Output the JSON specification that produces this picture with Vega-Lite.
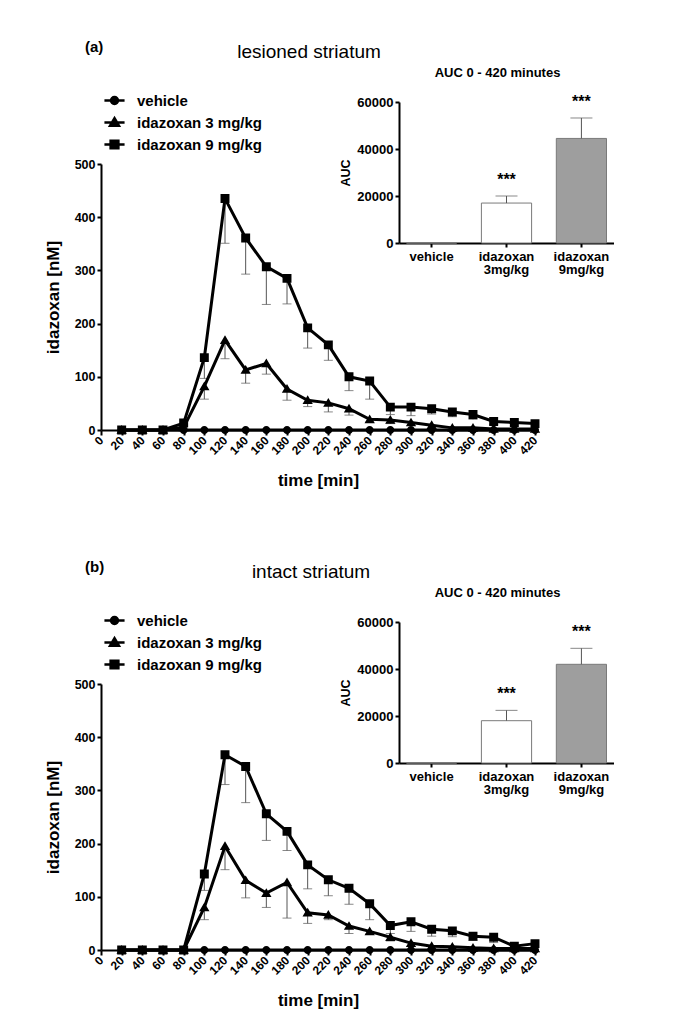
{
  "$schema": "https://vega.github.io/schema/vega-lite/v6.json",
  "background": "white",
  "padding": {"left": 44, "top": 40, "right": 5, "bottom": 5},
  "config": {
    "font": "Liberation Sans",
    "view": {"stroke": null},
    "axis": {"domainColor": "black", "domainWidth": 2, "tickColor": "black", "tickWidth": 2, "labelColor": "black", "labelFontWeight": "bold", "titleColor": "black", "titleFontWeight": "bold", "grid": false},
    "title": {"color": "black", "font": "Liberation Sans"},
    "legend": {"labelFont": "Liberation Sans", "titleFont": "Liberation Sans"}
  },
  "datasets": {
    "lines": [
      {"panel":"a","group":"vehicle","time":20,"mean":0},{"panel":"a","group":"vehicle","time":40,"mean":0},{"panel":"a","group":"vehicle","time":60,"mean":0},{"panel":"a","group":"vehicle","time":80,"mean":0},{"panel":"a","group":"vehicle","time":100,"mean":0},{"panel":"a","group":"vehicle","time":120,"mean":0},{"panel":"a","group":"vehicle","time":140,"mean":0},{"panel":"a","group":"vehicle","time":160,"mean":0},{"panel":"a","group":"vehicle","time":180,"mean":0},{"panel":"a","group":"vehicle","time":200,"mean":0},{"panel":"a","group":"vehicle","time":220,"mean":0},{"panel":"a","group":"vehicle","time":240,"mean":0},{"panel":"a","group":"vehicle","time":260,"mean":0},{"panel":"a","group":"vehicle","time":280,"mean":0},{"panel":"a","group":"vehicle","time":300,"mean":0},{"panel":"a","group":"vehicle","time":320,"mean":0},{"panel":"a","group":"vehicle","time":340,"mean":0},{"panel":"a","group":"vehicle","time":360,"mean":0},{"panel":"a","group":"vehicle","time":380,"mean":0},{"panel":"a","group":"vehicle","time":400,"mean":0},{"panel":"a","group":"vehicle","time":420,"mean":0},
      {"panel":"a","group":"idazoxan 3 mg/kg","time":20,"mean":0},{"panel":"a","group":"idazoxan 3 mg/kg","time":40,"mean":0},{"panel":"a","group":"idazoxan 3 mg/kg","time":60,"mean":0},{"panel":"a","group":"idazoxan 3 mg/kg","time":80,"mean":5},{"panel":"a","group":"idazoxan 3 mg/kg","time":100,"mean":82,"low":58},{"panel":"a","group":"idazoxan 3 mg/kg","time":120,"mean":169,"low":134},{"panel":"a","group":"idazoxan 3 mg/kg","time":140,"mean":113,"low":88},{"panel":"a","group":"idazoxan 3 mg/kg","time":160,"mean":125,"low":105},{"panel":"a","group":"idazoxan 3 mg/kg","time":180,"mean":77,"low":56},{"panel":"a","group":"idazoxan 3 mg/kg","time":200,"mean":56,"low":44},{"panel":"a","group":"idazoxan 3 mg/kg","time":220,"mean":51,"low":34},{"panel":"a","group":"idazoxan 3 mg/kg","time":240,"mean":40,"low":28},{"panel":"a","group":"idazoxan 3 mg/kg","time":260,"mean":20,"low":15},{"panel":"a","group":"idazoxan 3 mg/kg","time":280,"mean":19,"low":12},{"panel":"a","group":"idazoxan 3 mg/kg","time":300,"mean":14},{"panel":"a","group":"idazoxan 3 mg/kg","time":320,"mean":9},{"panel":"a","group":"idazoxan 3 mg/kg","time":340,"mean":4},{"panel":"a","group":"idazoxan 3 mg/kg","time":360,"mean":4},{"panel":"a","group":"idazoxan 3 mg/kg","time":380,"mean":2},{"panel":"a","group":"idazoxan 3 mg/kg","time":400,"mean":2},{"panel":"a","group":"idazoxan 3 mg/kg","time":420,"mean":2},
      {"panel":"a","group":"idazoxan 9 mg/kg","time":20,"mean":0},{"panel":"a","group":"idazoxan 9 mg/kg","time":40,"mean":0},{"panel":"a","group":"idazoxan 9 mg/kg","time":60,"mean":0},{"panel":"a","group":"idazoxan 9 mg/kg","time":80,"mean":13},{"panel":"a","group":"idazoxan 9 mg/kg","time":100,"mean":136,"low":97},{"panel":"a","group":"idazoxan 9 mg/kg","time":120,"mean":435,"low":351},{"panel":"a","group":"idazoxan 9 mg/kg","time":140,"mean":361,"low":293},{"panel":"a","group":"idazoxan 9 mg/kg","time":160,"mean":307,"low":236},{"panel":"a","group":"idazoxan 9 mg/kg","time":180,"mean":285,"low":237},{"panel":"a","group":"idazoxan 9 mg/kg","time":200,"mean":192,"low":154},{"panel":"a","group":"idazoxan 9 mg/kg","time":220,"mean":160,"low":131},{"panel":"a","group":"idazoxan 9 mg/kg","time":240,"mean":100,"low":74},{"panel":"a","group":"idazoxan 9 mg/kg","time":260,"mean":92,"low":58},{"panel":"a","group":"idazoxan 9 mg/kg","time":280,"mean":43,"low":29},{"panel":"a","group":"idazoxan 9 mg/kg","time":300,"mean":43,"low":27},{"panel":"a","group":"idazoxan 9 mg/kg","time":320,"mean":40,"low":30},{"panel":"a","group":"idazoxan 9 mg/kg","time":340,"mean":34,"low":25},{"panel":"a","group":"idazoxan 9 mg/kg","time":360,"mean":29,"low":20},{"panel":"a","group":"idazoxan 9 mg/kg","time":380,"mean":16,"low":10},{"panel":"a","group":"idazoxan 9 mg/kg","time":400,"mean":14},{"panel":"a","group":"idazoxan 9 mg/kg","time":420,"mean":12},
      {"panel":"b","group":"vehicle","time":20,"mean":0},{"panel":"b","group":"vehicle","time":40,"mean":0},{"panel":"b","group":"vehicle","time":60,"mean":0},{"panel":"b","group":"vehicle","time":80,"mean":0},{"panel":"b","group":"vehicle","time":100,"mean":0},{"panel":"b","group":"vehicle","time":120,"mean":0},{"panel":"b","group":"vehicle","time":140,"mean":0},{"panel":"b","group":"vehicle","time":160,"mean":0},{"panel":"b","group":"vehicle","time":180,"mean":0},{"panel":"b","group":"vehicle","time":200,"mean":0},{"panel":"b","group":"vehicle","time":220,"mean":0},{"panel":"b","group":"vehicle","time":240,"mean":0},{"panel":"b","group":"vehicle","time":260,"mean":0},{"panel":"b","group":"vehicle","time":280,"mean":0},{"panel":"b","group":"vehicle","time":300,"mean":0},{"panel":"b","group":"vehicle","time":320,"mean":0},{"panel":"b","group":"vehicle","time":340,"mean":0},{"panel":"b","group":"vehicle","time":360,"mean":0},{"panel":"b","group":"vehicle","time":380,"mean":0},{"panel":"b","group":"vehicle","time":400,"mean":0},{"panel":"b","group":"vehicle","time":420,"mean":0},
      {"panel":"b","group":"idazoxan 3 mg/kg","time":20,"mean":0},{"panel":"b","group":"idazoxan 3 mg/kg","time":40,"mean":0},{"panel":"b","group":"idazoxan 3 mg/kg","time":60,"mean":0},{"panel":"b","group":"idazoxan 3 mg/kg","time":80,"mean":0},{"panel":"b","group":"idazoxan 3 mg/kg","time":100,"mean":80,"low":57},{"panel":"b","group":"idazoxan 3 mg/kg","time":120,"mean":195,"low":151},{"panel":"b","group":"idazoxan 3 mg/kg","time":140,"mean":131,"low":98},{"panel":"b","group":"idazoxan 3 mg/kg","time":160,"mean":107,"low":80},{"panel":"b","group":"idazoxan 3 mg/kg","time":180,"mean":127,"low":60},{"panel":"b","group":"idazoxan 3 mg/kg","time":200,"mean":70,"low":50},{"panel":"b","group":"idazoxan 3 mg/kg","time":220,"mean":66,"low":57},{"panel":"b","group":"idazoxan 3 mg/kg","time":240,"mean":45,"low":31},{"panel":"b","group":"idazoxan 3 mg/kg","time":260,"mean":35,"low":30},{"panel":"b","group":"idazoxan 3 mg/kg","time":280,"mean":24,"low":17},{"panel":"b","group":"idazoxan 3 mg/kg","time":300,"mean":13},{"panel":"b","group":"idazoxan 3 mg/kg","time":320,"mean":7},{"panel":"b","group":"idazoxan 3 mg/kg","time":340,"mean":6},{"panel":"b","group":"idazoxan 3 mg/kg","time":360,"mean":4},{"panel":"b","group":"idazoxan 3 mg/kg","time":380,"mean":3},{"panel":"b","group":"idazoxan 3 mg/kg","time":400,"mean":3},{"panel":"b","group":"idazoxan 3 mg/kg","time":420,"mean":3},
      {"panel":"b","group":"idazoxan 9 mg/kg","time":20,"mean":0},{"panel":"b","group":"idazoxan 9 mg/kg","time":40,"mean":0},{"panel":"b","group":"idazoxan 9 mg/kg","time":60,"mean":0},{"panel":"b","group":"idazoxan 9 mg/kg","time":80,"mean":0},{"panel":"b","group":"idazoxan 9 mg/kg","time":100,"mean":143,"low":112},{"panel":"b","group":"idazoxan 9 mg/kg","time":120,"mean":367,"low":311},{"panel":"b","group":"idazoxan 9 mg/kg","time":140,"mean":345,"low":277},{"panel":"b","group":"idazoxan 9 mg/kg","time":160,"mean":256,"low":206},{"panel":"b","group":"idazoxan 9 mg/kg","time":180,"mean":223,"low":187},{"panel":"b","group":"idazoxan 9 mg/kg","time":200,"mean":160,"low":115},{"panel":"b","group":"idazoxan 9 mg/kg","time":220,"mean":132,"low":102},{"panel":"b","group":"idazoxan 9 mg/kg","time":240,"mean":116,"low":86},{"panel":"b","group":"idazoxan 9 mg/kg","time":260,"mean":87,"low":57},{"panel":"b","group":"idazoxan 9 mg/kg","time":280,"mean":46,"low":31},{"panel":"b","group":"idazoxan 9 mg/kg","time":300,"mean":53,"low":35},{"panel":"b","group":"idazoxan 9 mg/kg","time":320,"mean":39,"low":26},{"panel":"b","group":"idazoxan 9 mg/kg","time":340,"mean":36,"low":25},{"panel":"b","group":"idazoxan 9 mg/kg","time":360,"mean":26,"low":18},{"panel":"b","group":"idazoxan 9 mg/kg","time":380,"mean":24,"low":14},{"panel":"b","group":"idazoxan 9 mg/kg","time":400,"mean":7},{"panel":"b","group":"idazoxan 9 mg/kg","time":420,"mean":12}
    ],
    "auc": [
      {"panel":"a","treatment":"vehicle","auc":0,"sig":""},
      {"panel":"a","treatment":"idazoxan 3mg/kg","auc":17000,"high":20000,"sig":"***"},
      {"panel":"a","treatment":"idazoxan 9mg/kg","auc":44500,"high":53200,"sig":"***"},
      {"panel":"b","treatment":"vehicle","auc":0,"sig":""},
      {"panel":"b","treatment":"idazoxan 3mg/kg","auc":18000,"high":22400,"sig":"***"},
      {"panel":"b","treatment":"idazoxan 9mg/kg","auc":42000,"high":48800,"sig":"***"}
    ]
  },
  "vconcat": [
    {
      "title": {"text": "lesioned striatum", "fontSize": 19, "fontWeight": "normal", "anchor": "middle", "dx": -9, "offset": -22},
      "width": 434,
      "height": 266,
      "layer": [
        {
          "data": {"name": "lines"},
          "transform": [{"filter": "datum.panel == 'a'"}],
          "encoding": {
            "x": {"field": "time", "type": "quantitative", "scale": {"domain": [0, 420], "nice": false, "zero": false},
              "axis": {"values": [0,20,40,60,80,100,120,140,160,180,200,220,240,260,280,300,320,340,360,380,400,420], "labelOverlap": false, "labelAngle": -45, "labelAlign": "right", "labelBaseline": "middle", "labelFontSize": 12, "labelPadding": 3, "tickSize": 5, "title": "time [min]", "titleFontSize": 17, "titlePadding": 16}}
          },
          "layer": [
            {
              "mark": {"type": "rule", "color": "#555", "strokeWidth": 1},
              "encoding": {
                "y": {"field": "low", "type": "quantitative", "scale": {"domain": [0, 500], "nice": false},
                  "axis": {"values": [0,100,200,300,400,500], "labelFontSize": 12.5, "labelPadding": 2, "tickSize": 4, "title": "idazoxan [nM]", "titleFontSize": 17, "titlePadding": 12}},
                "y2": {"field": "mean"}
              }
            },
            {
              "mark": {"type": "tick", "orient": "horizontal", "color": "#555", "size": 9, "thickness": 1},
              "encoding": {
                "y": {"field": "low", "type": "quantitative"}
              }
            },
            {
              "mark": {"type": "line", "color": "black", "strokeWidth": 3},
              "encoding": {
                "y": {"field": "mean", "type": "quantitative"},
                "detail": {"field": "group", "type": "nominal"},
                "order": {"field": "time", "type": "quantitative"}
              }
            },
            {
              "mark": {"type": "point", "filled": true, "color": "black", "opacity": 1, "size": 80},
              "encoding": {
                "y": {"field": "mean", "type": "quantitative"},
                "shape": {"field": "group", "type": "nominal",
                  "scale": {"domain": ["vehicle", "idazoxan 3 mg/kg", "idazoxan 9 mg/kg"],
                    "range": ["M-2.6,0L2.6,0M-0.9,0A0.9,0.9,0,1,1,0.9,0A0.9,0.9,0,1,1,-0.9,0Z", "M-2.6,0L2.6,0M0,-1.1L1.15,0.85L-1.15,0.85Z", "M-2.6,0L2.6,0M-1,-1L1,-1L1,1L-1,1Z"]},
                  "legend": {"title": "(a)", "orient": "none", "legendX": -16, "legendY": -124, "padding": 0, "titleFontSize": 15, "titleFontWeight": "bold", "titleColor": "black", "titlePadding": 38, "labelFontSize": 15, "labelFontWeight": "bold", "labelColor": "black", "symbolSize": 60, "symbolOffset": 22, "labelOffset": 15, "rowPadding": 4,
                    "encoding": {"symbols": {"stroke": {"value": "black"}, "strokeWidth": {"value": 2.5}, "fill": {"value": "black"}, "opacity": {"value": 1}}}}
                }
              }
            }
          ]
        },
        {
          "data": {"name": "auc"},
          "transform": [{"filter": "datum.panel == 'a'"}],
          "layer": [
            {
              "mark": {"type": "bar", "stroke": "#7a7a7a", "strokeWidth": 1},
              "encoding": {
                "x": {"field": "treatment", "type": "nominal", "sort": null,
                  "scale": {"domain": ["vehicle", "idazoxan 3mg/kg", "idazoxan 9mg/kg"], "range": [298, 513], "paddingInner": 0.33, "paddingOuter": 0.1},
                  "axis": {"orient": "bottom", "offset": -187, "labelAngle": 0, "labelFontSize": 13, "labelExpr": "split(datum.label, ' ')", "labelLineHeight": 13, "labelPadding": 3, "tickSize": 4, "title": "AUC 0 - 420 minutes", "titleFontSize": 13, "titleX": 396, "titleY": -171, "titleBaseline": "middle", "titleAnchor": "middle"}},
                "y": {"field": "auc", "type": "quantitative",
                  "scale": {"domain": [0, 60000], "range": [79, -62], "nice": false},
                  "axis": {"orient": "left", "offset": -298, "values": [0, 20000, 40000, 60000], "format": "d", "labelFontSize": 13, "labelPadding": 2, "tickSize": 4, "title": "AUC", "titleFontSize": 12.5, "titlePadding": 4}},
                "fill": {"field": "treatment", "type": "nominal", "scale": {"domain": ["vehicle", "idazoxan 3mg/kg", "idazoxan 9mg/kg"], "range": ["white", "white", "#9e9e9e"]}, "legend": null}
              }
            },
            {
              "mark": {"type": "rule", "color": "#555", "strokeWidth": 1},
              "encoding": {
                "x": {"field": "treatment", "type": "nominal"},
                "y": {"field": "auc", "type": "quantitative"},
                "y2": {"field": "high"}
              }
            },
            {
              "mark": {"type": "tick", "orient": "horizontal", "color": "#555", "size": 22, "thickness": 1},
              "encoding": {
                "x": {"field": "treatment", "type": "nominal"},
                "y": {"field": "high", "type": "quantitative"}
              }
            },
            {
              "mark": {"type": "text", "fontSize": 16, "fontWeight": "bold", "color": "black", "baseline": "alphabetic", "dy": -11},
              "encoding": {
                "x": {"field": "treatment", "type": "nominal"},
                "y": {"field": "high", "type": "quantitative"},
                "text": {"field": "sig"}
              }
            }
          ]
        }
      ],
      "resolve": {"scale": {"x": "independent", "y": "independent", "fill": "independent"}, "axis": {"x": "independent", "y": "independent"}}
    },
    {
      "title": {"text": "intact striatum", "fontSize": 19, "fontWeight": "normal", "anchor": "middle", "dx": -7, "offset": -22},
      "width": 434,
      "height": 266,
      "layer": [
        {
          "data": {"name": "lines"},
          "transform": [{"filter": "datum.panel == 'b'"}],
          "encoding": {
            "x": {"field": "time", "type": "quantitative", "scale": {"domain": [0, 420], "nice": false, "zero": false},
              "axis": {"values": [0,20,40,60,80,100,120,140,160,180,200,220,240,260,280,300,320,340,360,380,400,420], "labelOverlap": false, "labelAngle": -45, "labelAlign": "right", "labelBaseline": "middle", "labelFontSize": 12, "labelPadding": 3, "tickSize": 5, "title": "time [min]", "titleFontSize": 17, "titlePadding": 16}}
          },
          "layer": [
            {
              "mark": {"type": "rule", "color": "#555", "strokeWidth": 1},
              "encoding": {
                "y": {"field": "low", "type": "quantitative", "scale": {"domain": [0, 500], "nice": false},
                  "axis": {"values": [0,100,200,300,400,500], "labelFontSize": 12.5, "labelPadding": 2, "tickSize": 4, "title": "idazoxan [nM]", "titleFontSize": 17, "titlePadding": 12}},
                "y2": {"field": "mean"}
              }
            },
            {
              "mark": {"type": "tick", "orient": "horizontal", "color": "#555", "size": 9, "thickness": 1},
              "encoding": {
                "y": {"field": "low", "type": "quantitative"}
              }
            },
            {
              "mark": {"type": "line", "color": "black", "strokeWidth": 3},
              "encoding": {
                "y": {"field": "mean", "type": "quantitative"},
                "detail": {"field": "group", "type": "nominal"},
                "order": {"field": "time", "type": "quantitative"}
              }
            },
            {
              "mark": {"type": "point", "filled": true, "color": "black", "opacity": 1, "size": 80},
              "encoding": {
                "y": {"field": "mean", "type": "quantitative"},
                "shape": {"field": "group", "type": "nominal",
                  "scale": {"domain": ["vehicle", "idazoxan 3 mg/kg", "idazoxan 9 mg/kg"],
                    "range": ["M-2.6,0L2.6,0M-0.9,0A0.9,0.9,0,1,1,0.9,0A0.9,0.9,0,1,1,-0.9,0Z", "M-2.6,0L2.6,0M0,-1.1L1.15,0.85L-1.15,0.85Z", "M-2.6,0L2.6,0M-1,-1L1,-1L1,1L-1,1Z"]},
                  "legend": {"title": "(b)", "orient": "none", "legendX": -16, "legendY": -124, "padding": 0, "titleFontSize": 15, "titleFontWeight": "bold", "titleColor": "black", "titlePadding": 38, "labelFontSize": 15, "labelFontWeight": "bold", "labelColor": "black", "symbolSize": 60, "symbolOffset": 22, "labelOffset": 15, "rowPadding": 4,
                    "encoding": {"symbols": {"stroke": {"value": "black"}, "strokeWidth": {"value": 2.5}, "fill": {"value": "black"}, "opacity": {"value": 1}}}}
                }
              }
            }
          ]
        },
        {
          "data": {"name": "auc"},
          "transform": [{"filter": "datum.panel == 'b'"}],
          "layer": [
            {
              "mark": {"type": "bar", "stroke": "#7a7a7a", "strokeWidth": 1},
              "encoding": {
                "x": {"field": "treatment", "type": "nominal", "sort": null,
                  "scale": {"domain": ["vehicle", "idazoxan 3mg/kg", "idazoxan 9mg/kg"], "range": [298, 513], "paddingInner": 0.33, "paddingOuter": 0.1},
                  "axis": {"orient": "bottom", "offset": -187, "labelAngle": 0, "labelFontSize": 13, "labelExpr": "split(datum.label, ' ')", "labelLineHeight": 13, "labelPadding": 3, "tickSize": 4, "title": "AUC 0 - 420 minutes", "titleFontSize": 13, "titleX": 396, "titleY": -171, "titleBaseline": "middle", "titleAnchor": "middle"}},
                "y": {"field": "auc", "type": "quantitative",
                  "scale": {"domain": [0, 60000], "range": [79, -62], "nice": false},
                  "axis": {"orient": "left", "offset": -298, "values": [0, 20000, 40000, 60000], "format": "d", "labelFontSize": 13, "labelPadding": 2, "tickSize": 4, "title": "AUC", "titleFontSize": 12.5, "titlePadding": 4}},
                "fill": {"field": "treatment", "type": "nominal", "scale": {"domain": ["vehicle", "idazoxan 3mg/kg", "idazoxan 9mg/kg"], "range": ["white", "white", "#9e9e9e"]}, "legend": null}
              }
            },
            {
              "mark": {"type": "rule", "color": "#555", "strokeWidth": 1},
              "encoding": {
                "x": {"field": "treatment", "type": "nominal"},
                "y": {"field": "auc", "type": "quantitative"},
                "y2": {"field": "high"}
              }
            },
            {
              "mark": {"type": "tick", "orient": "horizontal", "color": "#555", "size": 22, "thickness": 1},
              "encoding": {
                "x": {"field": "treatment", "type": "nominal"},
                "y": {"field": "high", "type": "quantitative"}
              }
            },
            {
              "mark": {"type": "text", "fontSize": 16, "fontWeight": "bold", "color": "black", "baseline": "alphabetic", "dy": -11},
              "encoding": {
                "x": {"field": "treatment", "type": "nominal"},
                "y": {"field": "high", "type": "quantitative"},
                "text": {"field": "sig"}
              }
            }
          ]
        }
      ],
      "resolve": {"scale": {"x": "independent", "y": "independent", "fill": "independent"}, "axis": {"x": "independent", "y": "independent"}}
    }
  ],
  "spacing": 71,
  "resolve": {"legend": {"shape": "independent"}, "scale": {"shape": "independent", "fill": "independent"}}
}
